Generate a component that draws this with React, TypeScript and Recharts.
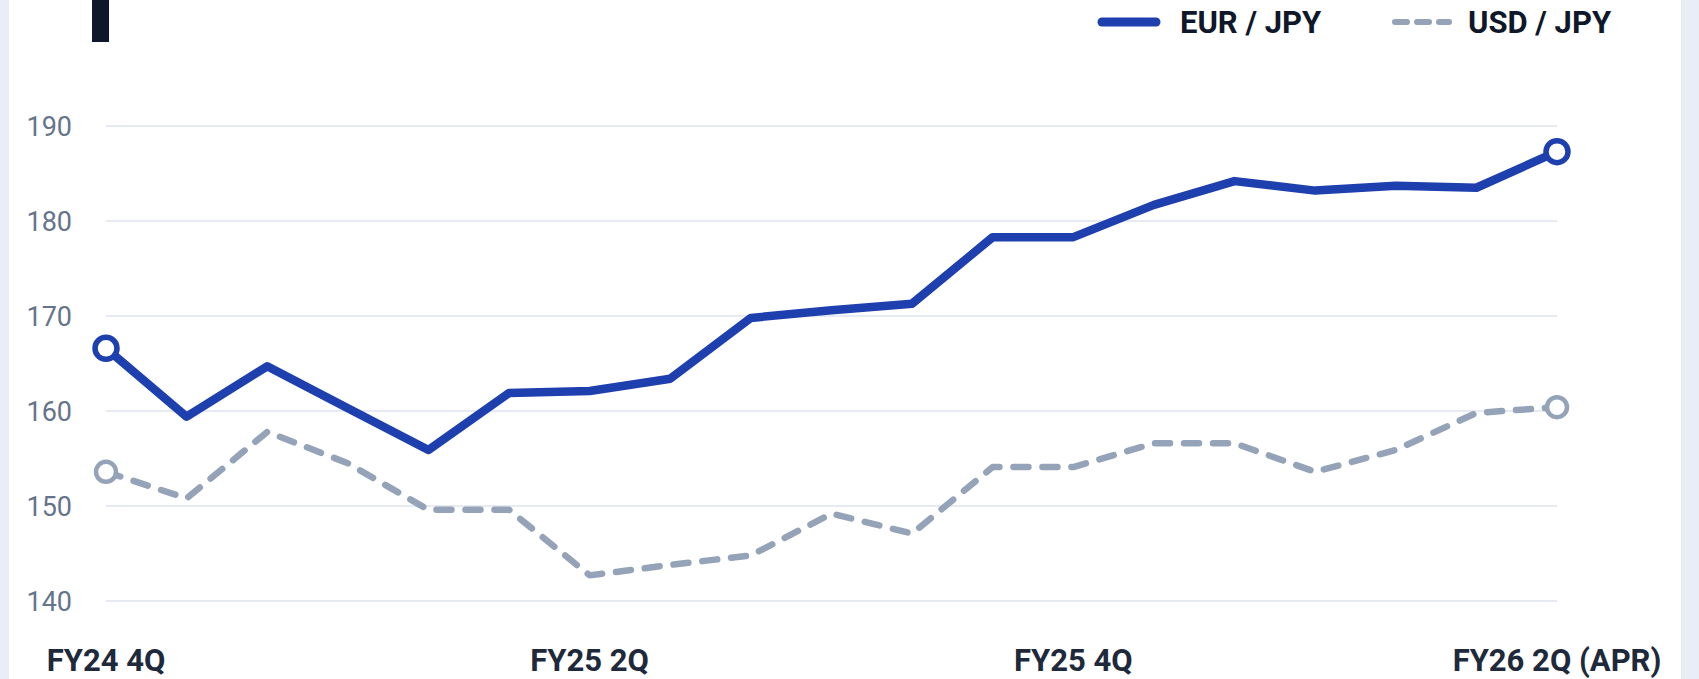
import React from 'react';
import { LineChart, Line, XAxis, YAxis, CartesianGrid } from 'recharts';

// monthly points, 19 of them
const periods = [
  'M01', 'M02', 'M03', 'M04', 'M05', 'M06', 'M07', 'M08', 'M09', 'M10',
  'M11', 'M12', 'M13', 'M14', 'M15', 'M16', 'M17', 'M18', 'M19',
];

const eurJpy = [
  166.6, 159.4, 164.7, 160.3, 155.9, 161.9, 162.1, 163.4, 169.8, 170.6,
  171.3, 178.3, 178.3, 181.7, 184.2, 183.2, 183.7, 183.5, 187.3,
];

const usdJpy = [
  153.6, 150.8, 157.8, 154.5, 149.6, 149.6, 142.7, 143.8, 144.8, 149.2,
  147.1, 154.1, 154.1, 156.6, 156.6, 153.6, 155.9, 159.8, 160.4,
];

const tickPeriods = ['M01', 'M07', 'M13', 'M19'];
const tickLabels = ['FY24 4Q', 'FY25 2Q', 'FY25 4Q', 'FY26 2Q (APR)'];

const yTicks = [140, 150, 160, 170, 180, 190];

const EUR_COLOR = '#1e40af';
const USD_COLOR = '#94a3b8';
const FONT = "Roboto, 'Noto Sans', sans-serif";

const data = periods.map((p, i) => ({ period: p, eur: eurJpy[i], usd: usdJpy[i] }));

// only first and last points get a ring
const makeDot = (color: string, r: number, sw: number) => (props: any) => {
  const { cx, cy, index } = props;
  if (index !== 0 && index !== data.length - 1) return <g key={`d-${index}`} />;
  return (
    <circle key={`d-${index}`} cx={cx} cy={cy} r={r} fill="#fff" stroke={color} strokeWidth={sw} />
  );
};

export default function App() {
  return (
    <div style={{ position: 'absolute', left: 0, top: 0, width: 1699, height: 679, background: '#e9edf6', overflow: 'hidden' }}>
      <div style={{ position: 'absolute', left: 9, top: 0, width: 1672, height: 679, background: '#ffffff' }} />
      {/* title marker, text is cut off above */}
      <div style={{ position: 'absolute', left: 92, top: 0, width: 17, height: 42, background: '#0f172a' }} />

      <div style={{ position: 'absolute', left: 0, top: 0 }}>
        <LineChart
          width={1699}
          height={679}
          data={data}
          margin={{ top: 126, right: 142, bottom: 0, left: 26 }}
        >
          <CartesianGrid vertical={false} stroke="#e6eaf2" strokeWidth={2} />
          <XAxis
            dataKey="period"
            axisLine={false}
            tickLine={false}
            tickSize={0}
            tickMargin={48}
            height={78}
            interval={0}
            ticks={tickPeriods}
            tickFormatter={(v: string) => tickLabels[tickPeriods.indexOf(v)] ?? ''}
            tick={{ fill: '#1e293b', fontSize: 31, fontWeight: 700, fontFamily: FONT }}
          />
          <YAxis
            domain={[140, 190]}
            ticks={yTicks}
            width={80}
            axisLine={false}
            tickLine={false}
            tickSize={0}
            tickMargin={34}
            tick={{ fill: '#64748b', fontSize: 27, fontFamily: FONT }}
          />
          <Line
            dataKey="usd"
            stroke={USD_COLOR}
            strokeWidth={6.5}
            strokeDasharray="15 14"
            strokeLinecap="round"
            strokeLinejoin="round"
            dot={makeDot(USD_COLOR, 10, 4.5)}
            activeDot={false}
            isAnimationActive={false}
          />
          <Line
            dataKey="eur"
            stroke={EUR_COLOR}
            strokeWidth={8.5}
            strokeLinejoin="round"
            dot={makeDot(EUR_COLOR, 11, 5.5)}
            activeDot={false}
            isAnimationActive={false}
          />
        </LineChart>
      </div>

      {/* legend */}
      <svg style={{ position: 'absolute', left: 0, top: 0 }} width={1699} height={60}>
        <line x1={1102} y1={22} x2={1156} y2={22} stroke={EUR_COLOR} strokeWidth={9} strokeLinecap="round" />
        <text x={1180} y={33.3} fill="#0f172a" fontSize={31} fontWeight={700} fontFamily={FONT}>EUR / JPY</text>
        <line x1={1395} y1={22} x2={1449} y2={22} stroke={USD_COLOR} strokeWidth={6} strokeDasharray="12 10" strokeLinecap="round" />
        <text x={1468} y={33.3} fill="#0f172a" fontSize={31} fontWeight={700} fontFamily={FONT}>USD / JPY</text>
      </svg>
    </div>
  );
}
